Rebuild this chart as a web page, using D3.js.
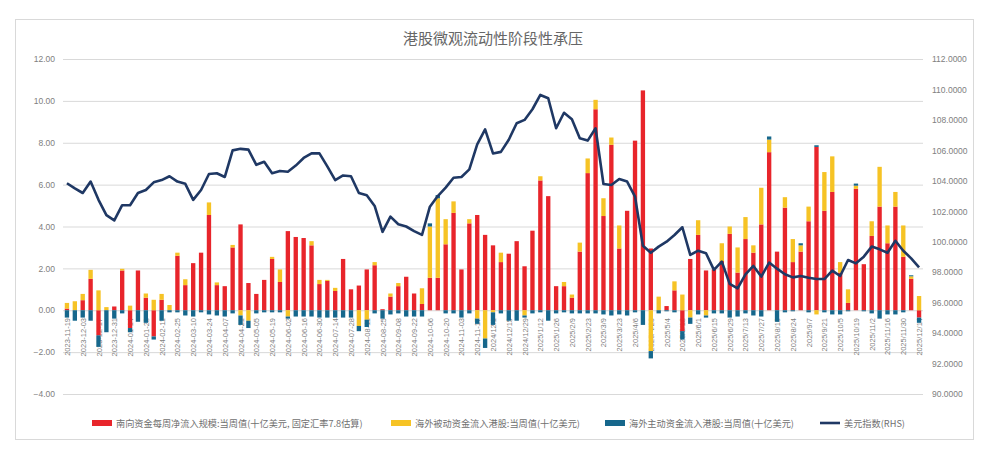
<!DOCTYPE html>
<html><head><meta charset="utf-8">
<script src="https://cdn.jsdelivr.net/npm/d3@7"></script>
<style>
html,body{margin:0;padding:0;background:#fff;}
svg{display:block;font-family:"Noto Sans CJK SC","Noto Sans",sans-serif;}
</style></head>
<body>
<svg id="c" width="999" height="451"></svg>
<script>
const dates = [
"2023-11-19","2023-11-26","2023-12-03","2023-12-10","2023-12-17","2023-12-24","2023-12-31",
"2024-01-07","2024-01-14","2024-01-21","2024-01-28","2024-02-04","2024-02-11","2024-02-18","2024-02-25",
"2024-03-03","2024-03-10","2024-03-17","2024-03-24","2024-03-31","2024-04-07","2024-04-14","2024-04-21","2024-04-28",
"2024-05-05","2024-05-12","2024-05-19","2024-05-26","2024-06-02","2024-06-09","2024-06-16","2024-06-23","2024-06-30",
"2024-07-07","2024-07-14","2024-07-21","2024-07-28","2024-08-04","2024-08-11","2024-08-18","2024-08-25",
"2024-09-01","2024-09-08","2024-09-15","2024-09-22","2024-09-29","2024-10-06","2024-10-13","2024-10-20","2024-10-27",
"2024-11-03","2024-11-10","2024-11-17","2024-11-24","2024/12/1","2024/12/8","2024/12/15","2024/12/22","2024/12/29",
"2025/1/5","2025/1/12","2025/1/19","2025/1/26","2025/2/2","2025/2/9","2025/2/16","2025/2/23",
"2025/3/2","2025/3/9","2025/3/16","2025/3/23","2025/3/30","2025/4/6","2025/4/13","2025/4/20","2025/4/27",
"2025/5/4","2025/5/11","2025/5/18","2025/5/25","2025/6/1","2025/6/8","2025/6/15","2025/6/22","2025/6/29",
"2025/7/6","2025/7/13","2025/7/20","2025/7/27","2025/8/3","2025/8/10","2025/8/17","2025/8/24","2025/8/31",
"2025/9/7","2025/9/14","2025/9/21","2025/9/28","2025/10/5","2025/10/12","2025/10/19","2025/10/26",
"2025/11/2","2025/11/9","2025/11/16","2025/11/23","2025/11/30","2025/12/7","2025/12/14"
];
const southbound = [
0.08,0,0.48,1.5,-1.2,0,0.18,1.9,-0.85,1.9,0.6,-1.25,0.5,0,2.6,1.2,2.25,2.75,4.55,1.2,
1.15,3.0,4.1,1.3,0.78,1.45,2.45,1.35,3.78,3.5,3.45,3.1,1.25,1.4,0.92,2.45,1.0,1.18,1.95,2.15,
0.05,0.65,1.15,1.6,0.8,0.3,1.55,1.55,3.15,4.65,1.95,4.15,4.55,3.6,3.1,2.3,2.7,3.3,2.1,3.8,
6.2,5.45,1.15,1.15,0.6,2.8,6.55,9.6,4.5,7.9,2.95,4.75,8.1,10.5,2.95,0,0.2,0.95,-1.0,2.45,
3.6,1.9,1.95,2.35,3.65,1.8,3.4,2.75,4.1,7.55,2.8,4.9,2.3,2.8,4.25,7.8,4.75,5.65,1.8,0.35,
5.8,2.2,3.55,4.95,3.2,4.95,2.55,1.5,-0.35
];
const passive = [
0.27,0.43,0.3,0.43,0.95,0.15,0,0.08,0.22,0,0.2,0.5,0.28,0.25,0.15,0.28,0,0,0.6,0.13,
0,0.12,-0.25,-0.5,0,0,0.1,0.6,-0.3,0,0,0.2,0.2,0.05,0.15,0,0,-0.75,-0.45,0.15,
0,0.15,0.15,0,0,0.75,2.45,3.8,1.2,0.55,0,0.2,-0.4,-1.35,-0.1,0.45,0,0,-0.25,0,
0.2,0,0,0.2,0.15,0.43,0.7,0.45,0.85,0.35,1.1,0,0,0,-1.95,0.65,0,0.43,0.75,-0.35,
0.7,-0.25,0,0.85,0.35,1.2,1.05,0.35,1.75,0.6,0,0.5,1.1,0.3,0.7,-0.2,1.85,1.7,0.5,0.65,
0.15,0,0.7,1.9,0.85,0.7,1.5,0.12,0.68
];
const active = [
-0.35,-0.5,-0.35,-0.5,-0.55,-1.05,-0.4,-0.15,-0.2,-0.55,-0.6,-0.15,-0.5,-0.1,-0.1,-0.25,-0.3,-0.1,-0.2,-0.25,
-0.3,-0.15,-0.45,-0.35,-0.15,-0.1,-0.1,-0.1,-0.1,-0.3,-0.3,-0.3,-0.35,-0.35,-0.35,-0.35,-0.35,-0.25,-0.35,-0.15,
-0.4,-0.2,-0.15,-0.3,-0.3,-0.3,0.15,0.15,-0.15,-0.15,-0.35,-0.15,-0.25,-0.45,-0.6,-0.15,-0.5,-0.5,-0.1,-0.15,
-0.1,-0.5,-0.15,-0.1,-0.15,-0.15,-0.15,-0.15,-0.2,-0.25,-0.2,-0.25,-0.1,-0.7,-0.35,-0.15,-0.05,-0.1,-0.4,-0.3,
-0.2,-0.1,-0.15,-0.15,-0.35,-0.3,-0.15,-0.25,-0.3,0.15,-0.55,-0.1,-0.05,0.1,-0.1,0.08,-0.1,-0.2,-0.2,-0.05,
0.1,-0.05,-0.15,-0.4,-0.2,-0.2,-0.1,0.05,-0.25
];
const dxy = [
103.84,103.5,103.2,103.95,102.75,101.75,101.4,102.4,102.4,103.2,103.4,103.9,104.05,104.3,103.95,103.8,102.75,103.4,104.45,104.5,
104.25,106.0,106.1,106.05,105.05,105.25,104.5,104.65,104.6,105.0,105.5,105.8,105.8,104.95,104.05,104.35,104.3,103.2,103.05,102.35,
100.65,101.65,101.15,101.0,100.7,100.45,102.3,103.0,103.55,104.2,104.25,104.75,106.4,107.38,105.8,105.9,106.7,107.78,108.0,108.7,
109.64,109.42,107.45,108.47,108.04,106.79,106.64,107.45,103.79,103.73,104.12,103.95,102.96,99.74,99.28,99.68,100.0,100.44,100.95,99.13,
99.41,99.24,98.15,98.69,97.23,96.94,97.86,98.41,97.71,98.63,98.23,97.86,97.66,97.75,97.64,97.55,97.55,98.1,97.75,98.8,
98.58,99.02,99.68,99.5,99.28,100.06,99.41,98.91,98.32
];
const leftTicks = [-4,-2,0,2,4,6,8,10,12];
const rightTicks = [90,92,94,96,98,100,102,104,106,108,110,112];
const seriesNames = ["南向资金每周净流入规模:当周值(十亿美元, 固定汇率7.8估算)","海外被动资金流入港股:当周值(十亿美元)","海外主动资金流入港股:当周值(十亿美元)","美元指数(RHS)"];
const title = "港股微观流动性阶段性承压";

const colors = ["#e8252b","#f6c325","#16678c","#1f3864"];
const svg = d3.select("#c");
const gridColor = "#d9d9d9", textColor = "#808080";

svg.append("rect").attr("x",15.5).attr("y",19.5).attr("width",958).attr("height",420)
  .attr("fill","#fff").attr("stroke","#d9d9d9");

const x = d3.scaleBand().domain(dates).range([63,923]).paddingInner(0.45).paddingOuter(0.225);
const yL = d3.scaleLinear().domain([-4,12]).range([394,59]);
const yR = d3.scaleLinear().domain([90,112]).range([394,59]);

// grid
svg.append("g").selectAll("line").data(leftTicks).join("line")
  .attr("x1",63).attr("x2",923).attr("y1",d=>yL(d)+0.5).attr("y2",d=>yL(d)+0.5)
  .attr("stroke",gridColor).attr("stroke-width",1);

// left axis
const gl = svg.append("g").attr("transform","translate(63,0)")
  .call(d3.axisLeft(yL).tickValues(leftTicks).tickFormat(d3.format(".2f")).tickSize(0).tickPadding(8));
gl.select(".domain").remove();
gl.selectAll("text").attr("fill",textColor).attr("font-size",8.5).attr("font-family","Liberation Sans, Arial, sans-serif");

// right axis
const gr = svg.append("g").attr("transform","translate(923,0)")
  .call(d3.axisRight(yR).tickValues(rightTicks).tickFormat(d3.format(".4f")).tickSize(0).tickPadding(9));
gr.select(".domain").remove();
gr.selectAll("text").attr("fill",textColor).attr("font-size",8.5).attr("font-family","Liberation Sans, Arial, sans-serif");

// x labels (drawn beneath bars)
const xl = svg.append("g");
dates.forEach((d,i)=>{
  if(i%2!==0) return;
  const cx = x(d)+x.bandwidth()/2;
  xl.append("text").attr("transform",`translate(${cx+3},318) rotate(-90)`)
    .attr("text-anchor","end").attr("font-size",7.5).attr("fill",textColor)
    .attr("font-family","Liberation Sans, Arial, sans-serif").text(d);
});

// stacked bars
const rows = dates.map((d,i)=>({date:d, s:southbound[i], p:passive[i], a:active[i]}));
const stack = d3.stack().keys(["s","p","a"]).offset(d3.stackOffsetDiverging);
const layers = stack(rows);
svg.append("g").selectAll("g").data(layers).join("g")
  .attr("fill",(d,i)=>colors[i])
  .selectAll("rect").data(d=>d).join("rect")
  .attr("x",d=>x(d.data.date))
  .attr("width",x.bandwidth())
  .attr("y",d=>yL(Math.max(d[0],d[1])))
  .attr("height",d=>Math.abs(yL(d[0])-yL(d[1])));

// line
const line = d3.line().x((d,i)=>x(dates[i])+x.bandwidth()/2).y(d=>yR(d));
svg.append("path").datum(dxy).attr("d",line).attr("fill","none")
  .attr("stroke",colors[3]).attr("stroke-width",2.6).attr("stroke-linejoin","round");

// title
svg.append("text").attr("x",493).attr("y",44).attr("text-anchor","middle")
  .attr("font-size",15).attr("fill","#666666").text(title);

// legend
const legX = [92,391,605,820];
seriesNames.forEach((n,i)=>{
  const g = svg.append("g");
  if(i<3){
    g.append("rect").attr("x",legX[i]).attr("y",420).attr("width",20).attr("height",6).attr("fill",colors[i]);
  } else {
    g.append("line").attr("x1",legX[i]).attr("x2",legX[i]+20).attr("y1",423).attr("y2",423)
      .attr("stroke",colors[i]).attr("stroke-width",2.6);
  }
  g.append("text").attr("x",legX[i]+24).attr("y",426.5).attr("font-size",9.2).attr("fill","#707070").text(n);
});
</script>
</body></html>
